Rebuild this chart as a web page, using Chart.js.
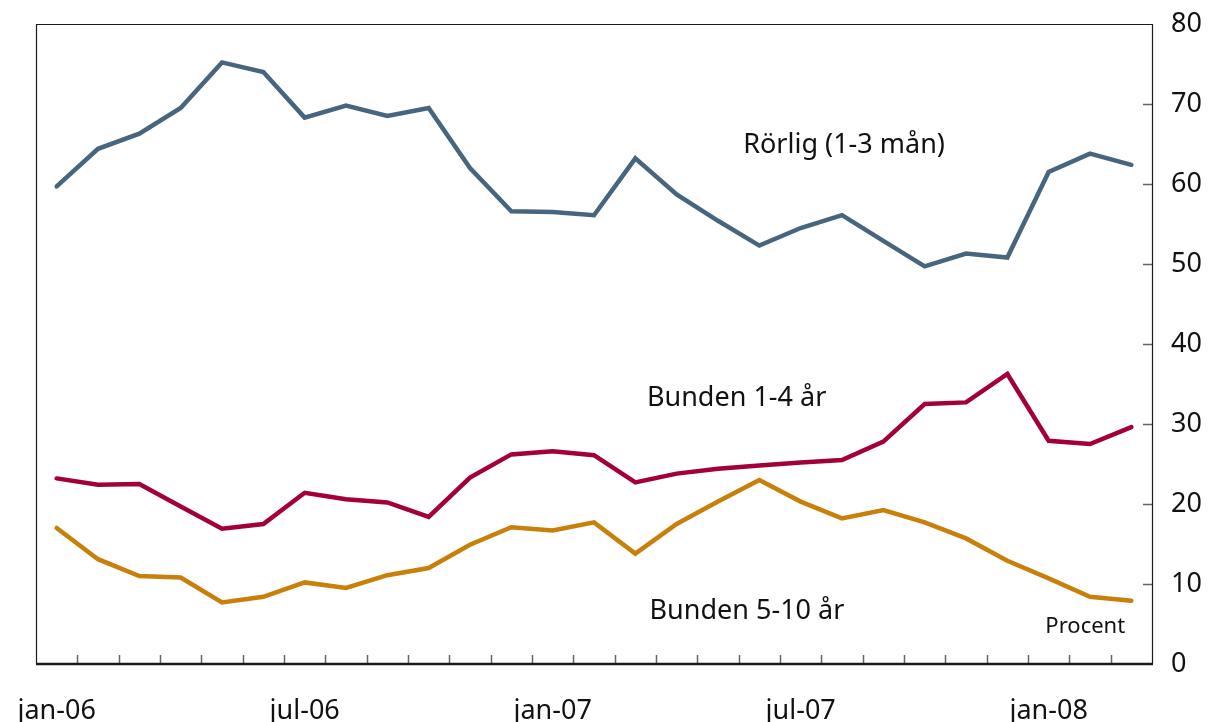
<!DOCTYPE html>
<html>
<head>
<meta charset="utf-8">
<script src="https://cdn.jsdelivr.net/npm/chart.js@4/dist/chart.umd.min.js"></script>
<style>
  html, body { margin: 0; padding: 0; background: #fff; }
  #wrap { width: 1212px; height: 722px; }
</style>
</head>
<body>
<div id="wrap"><canvas id="chart"></canvas></div>
<script>
(function () {
    "use strict";

    const MONTHS = ["jan", "feb", "mar", "apr", "maj", "jun", "jul", "aug", "sep", "okt", "nov", "dec"];
    const months = [];
    for (let i = 0; i < 27; i++) months.push(MONTHS[i % 12] + "-" + String(6 + Math.floor(i / 12)).padStart(2, "0"));

    const rorlig = [59.7, 64.4, 66.3, 69.5, 75.2, 74.0, 68.3, 69.8, 68.5, 69.5, 62.0, 56.6, 56.5, 56.1, 63.2, 58.7, 55.4, 52.3, 54.5, 56.1, 52.9, 49.7, 51.3, 50.8, 61.5, 63.8, 62.4];
    const bunden14 = [23.2, 22.4, 22.5, 19.7, 16.9, 17.5, 21.4, 20.6, 20.2, 18.4, 23.3, 26.2, 26.6, 26.1, 22.7, 23.8, 24.4, 24.8, 25.2, 25.5, 27.8, 32.5, 32.7, 36.25, 27.9, 27.5, 29.6];
    const bunden510 = [17.0, 13.1, 11.0, 10.8, 7.7, 8.4, 10.2, 9.5, 11.1, 12.0, 14.9, 17.1, 16.7, 17.7, 13.8, 17.5, 20.3, 23.0, 20.3, 18.2, 19.25, 17.7, 15.7, 12.9, 10.7, 8.4, 7.9];
    const yTicks = [0, 10, 20, 30, 40, 50, 60, 70, 80];

    const FONT = "'Noto Sans', 'Open Sans', sans-serif";

    // Text labels inside the plot, placed in data coordinates
    const seriesLabels = [
        { text: "Rörlig (1-3 mån)", x: 19.05, y: 64.85, size: 27, align: "center" },
        { text: "Bunden 1-4 år", x: 16.45, y: 33.15, size: 27, align: "center" },
        { text: "Bunden 5-10 år", x: 16.7, y: 6.55, size: 27, align: "center" },
        { text: "Procent", x: 25.85, y: 4.7, size: 22, align: "right" },
    ];

    const framePlugin = {
        id: "frame",
        afterDraw(chart) {
            const { ctx, chartArea: a, scales: { x, y } } = chart;
            ctx.save();
            // tick marks, inward
            ctx.strokeStyle = "#666";
            ctx.lineWidth = 1.5;
            ctx.beginPath();
            yTicks.slice(1, -1).forEach((v) => {
                const py = Math.round(y.getPixelForValue(v)) + 0.5;
                ctx.moveTo(a.right - 9, py);
                ctx.lineTo(a.right, py);
            });
            const step = x.getPixelForValue(1) - x.getPixelForValue(0);
            for (let i = 1; i < months.length; i++) {
                const px = Math.round(x.getPixelForValue(i) - step / 2) + 0.5;
                ctx.moveTo(px, a.bottom - 9);
                ctx.lineTo(px, a.bottom);
            }
            ctx.stroke();
            // box
            ctx.strokeStyle = "#1a1a1a";
            ctx.lineWidth = 1.2;
            ctx.beginPath();
            ctx.moveTo(a.left + 0.5, a.bottom);
            ctx.lineTo(a.left + 0.5, a.top + 0.5);
            ctx.lineTo(a.right + 0.5, a.top + 0.5);
            ctx.lineTo(a.right + 0.5, a.bottom);
            ctx.stroke();
            ctx.lineWidth = 2.5;
            ctx.beginPath();
            ctx.moveTo(a.left, a.bottom);
            ctx.lineTo(a.right + 1, a.bottom);
            ctx.stroke();
            // series labels
            ctx.fillStyle = "#111";
            ctx.textBaseline = "middle";
            seriesLabels.forEach((l) => {
                ctx.font = l.size + "px " + FONT;
                ctx.textAlign = l.align;
                ctx.fillText(l.text, x.getPixelForValue(l.x), y.getPixelForValue(l.y));
            });
            ctx.restore();
        },
    };

    const line = (label, data, color) => ({
        label, data, borderColor: color, backgroundColor: color,
        borderWidth: 4.5, pointRadius: 0, tension: 0, borderJoinStyle: "miter", borderCapStyle: "round",
    });

    new Chart(document.getElementById("chart"), {
        type: "line",
        data: {
            labels: months,
            datasets: [
                line("Rörlig (1-3 mån)", rorlig, "#47657e"),
                line("Bunden 1-4 år", bunden14, "#a3003a"),
                line("Bunden 5-10 år", bunden510, "#c8800a"),
            ],
        },
        options: {
            responsive: true,
            maintainAspectRatio: false,
            animation: false,
            layout: { padding: { left: 36, top: 24, right: 0, bottom: 0 } },
            plugins: { legend: { display: false }, tooltip: { enabled: false } },
            scales: {
                x: {
                    offset: true,
                    grid: { display: false },
                    border: { display: false },
                    afterFit: (s) => { s.height = 58; s.paddingLeft = 0; s.paddingRight = 0; },
                    ticks: {
                        autoSkip: false, maxRotation: 0, minRotation: 0, padding: 23,
                        color: "#111", font: { family: FONT, size: 27 },
                        callback: (v, i) => (i % 6 === 0 ? months[i] : ""),
                    },
                },
                y: {
                    position: "right",
                    min: 0, max: 80,
                    grid: { display: false },
                    border: { display: false },
                    afterFit: (s) => { s.width = 60; s.paddingTop = 0; s.paddingBottom = 0; },
                    afterBuildTicks: (s) => { s.ticks = yTicks.map((v) => ({ value: v })); },
                    ticks: { padding: 11, color: "#111", font: { family: FONT, size: 27 } },
                },
            },
        },
        plugins: [framePlugin],
    });
})();
</script>
</body>
</html>
